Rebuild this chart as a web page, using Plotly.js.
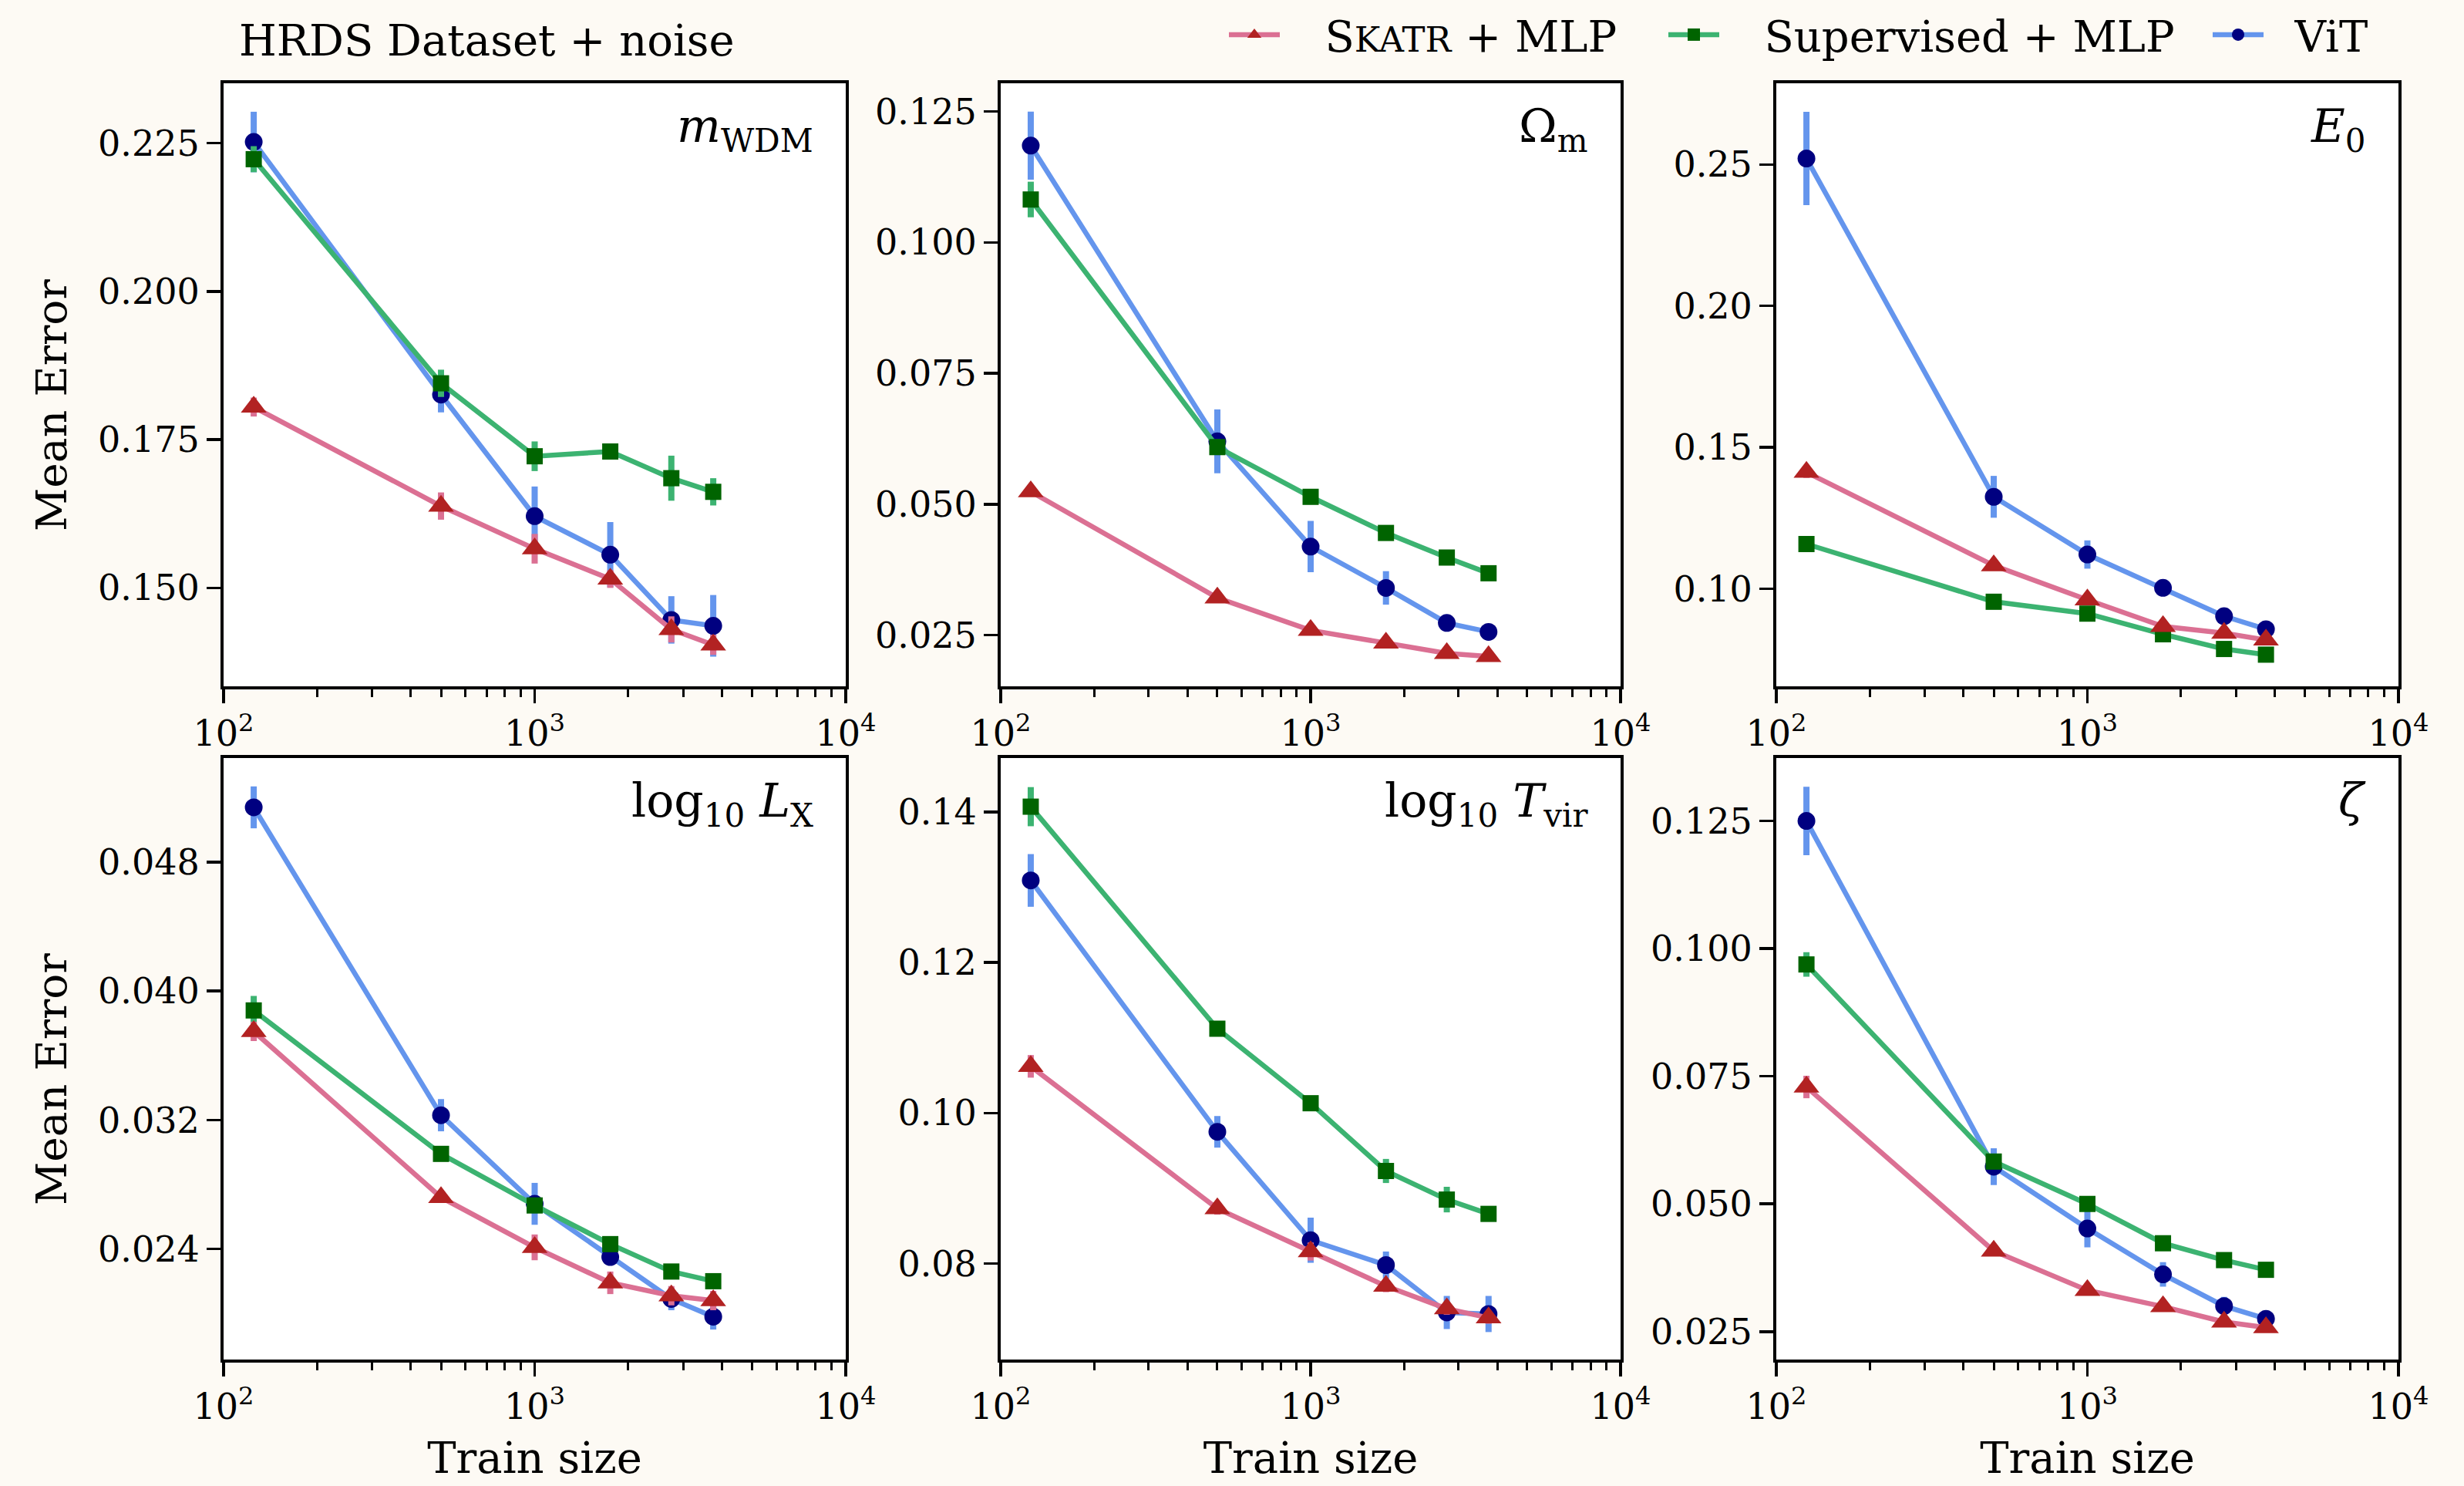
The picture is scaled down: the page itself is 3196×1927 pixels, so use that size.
<!DOCTYPE html>
<html>
<head>
<meta charset="utf-8">
<script src="https://cdn.plot.ly/plotly-3.0.1.min.js"></script>
<style>html,body{margin:0;padding:0;background:#FDFAF4;}</style>
</head>
<body>
<div id="chart" style="width:3196px;height:1927px;"></div>
<script>
// ---------------- DATA ----------------
const trainSize = [125, 500, 1000, 1750, 2750, 3750];
const seriesNames = ['S<span style="font-size:45px">KATR</span> + MLP', 'Supervised + MLP', 'ViT'];
const panelLabels = [
  '<i>m</i><sub>WDM</sub>',
  'Ω<sub>m</sub>',
  '<i>E</i><sub>0</sub>',
  'log<sub>10</sub> <i>L</i><sub>X</sub>',
  'log<sub>10</sub> <i>T</i><sub>vir</sub>',
  '<i>ζ</i>'
];
const figTitle = 'HRDS Dataset + noise';
const yTitle = 'Mean Error';
const xTitle = 'Train size';
const xTickVals = [100, 1000, 10000];
const xTickText = ['10<sup>2</sup>', '10<sup>3</sup>', '10<sup>4</sup>'];
const xMinorVals = [200, 300, 400, 500, 600, 700, 800, 900, 2000, 3000, 4000, 5000, 6000, 7000, 8000, 9000];

// m_WDM
const skatr_mWDM = [0.1805, 0.1638, 0.1566, 0.1515, 0.1430, 0.1404];
const skatr_mWDM_err = [0.0016, 0.0023, 0.0025, 0.0015, 0.0022, 0.0017];
const sup_mWDM = [0.2223, 0.1845, 0.1722, 0.1730, 0.1685, 0.1662];
const sup_mWDM_err = [0.0022, 0.0023, 0.0025, 0.0006, 0.0038, 0.0023];
const vit_mWDM = [0.2252, 0.1826, 0.1621, 0.1556, 0.1446, 0.1436];
const vit_mWDM_err = [0.0051, 0.0030, 0.0050, 0.0055, 0.0040, 0.0052];
// Omega_m
const skatr_Om = [0.0524, 0.0321, 0.0259, 0.0235, 0.0215, 0.0209];
const skatr_Om_err = [0.0008, 0.0006, 0.0006, 0.0006, 0.0005, 0.0005];
const sup_Om = [0.1082, 0.0609, 0.0514, 0.0445, 0.0398, 0.0368];
const sup_Om_err = [0.0034, 0.0015, 0.0007, 0.0007, 0.0006, 0.0006];
const vit_Om = [0.1185, 0.0620, 0.0419, 0.0340, 0.0273, 0.0256];
const vit_Om_err = [0.0065, 0.0061, 0.0049, 0.0032, 0.0008, 0.0008];
// E0
const skatr_E0 = [0.1412, 0.1082, 0.0961, 0.0867, 0.0843, 0.0819];
const skatr_E0_err = [0.0020, 0.0012, 0.0012, 0.0012, 0.0010, 0.0010];
const sup_E0 = [0.1158, 0.0954, 0.0912, 0.0839, 0.0787, 0.0767];
const sup_E0_err = [0.0008, 0.0008, 0.0008, 0.0008, 0.0008, 0.0008];
const vit_E0 = [0.2521, 0.1325, 0.1121, 0.1003, 0.0903, 0.0857];
const vit_E0_err = [0.0165, 0.0074, 0.0050, 0.0020, 0.0015, 0.0015];
// log10 L_X
const skatr_LX = [0.0375, 0.0272, 0.0241, 0.0219, 0.0211, 0.0208];
const skatr_LX_err = [0.0006, 0.0003, 0.0008, 0.0007, 0.0006, 0.0006];
const sup_LX = [0.0388, 0.0299, 0.0267, 0.0243, 0.0226, 0.0220];
const sup_LX_err = [0.0009, 0.0003, 0.0003, 0.0003, 0.0003, 0.0003];
const vit_LX = [0.0514, 0.0323, 0.0268, 0.0235, 0.0209, 0.0198];
const vit_LX_err = [0.0013, 0.0010, 0.0013, 0.0005, 0.0007, 0.0008];
// log10 T_vir
const skatr_Tvir = [0.1062, 0.0873, 0.0816, 0.0770, 0.0740, 0.0728];
const skatr_Tvir_err = [0.0015, 0.0008, 0.0012, 0.0008, 0.0008, 0.0008];
const sup_Tvir = [0.1407, 0.1112, 0.1013, 0.0923, 0.0885, 0.0866];
const sup_Tvir_err = [0.0026, 0.0006, 0.0006, 0.0016, 0.0017, 0.0006];
const vit_Tvir = [0.1309, 0.0975, 0.0831, 0.0798, 0.0735, 0.0733];
const vit_Tvir_err = [0.0035, 0.0021, 0.0030, 0.0018, 0.0022, 0.0024];
// zeta
const skatr_zeta = [0.0729, 0.0408, 0.0331, 0.0299, 0.0269, 0.0258];
const skatr_zeta_err = [0.0022, 0.0008, 0.0008, 0.0008, 0.0008, 0.0008];
const sup_zeta = [0.0969, 0.0583, 0.0500, 0.0423, 0.0390, 0.0371];
const sup_zeta_err = [0.0024, 0.0008, 0.0008, 0.0008, 0.0008, 0.0008];
const vit_zeta = [0.1250, 0.0573, 0.0452, 0.0362, 0.0300, 0.0275];
const vit_zeta_err = [0.0067, 0.0036, 0.0037, 0.0024, 0.0018, 0.0010];

// y-axis ticks per panel
const yTicks1 = [0.150, 0.175, 0.200, 0.225];
const yTicks2 = [0.025, 0.050, 0.075, 0.100, 0.125];
const yTicks3 = [0.10, 0.15, 0.20, 0.25];
const yTicks4 = [0.024, 0.032, 0.040, 0.048];
const yTicks5 = [0.08, 0.10, 0.12, 0.14];
const yTicks6 = [0.025, 0.050, 0.075, 0.100, 0.125];

// ---------------- BUILD ----------------
const panels = [
  {s: skatr_mWDM, se: skatr_mWDM_err, g: sup_mWDM, ge: sup_mWDM_err, v: vit_mWDM, ve: vit_mWDM_err, ticks: yTicks1, fmt: '.3f', range: [0.1334, 0.2351]},
  {s: skatr_Om, se: skatr_Om_err, g: sup_Om, ge: sup_Om_err, v: vit_Om, ve: vit_Om_err, ticks: yTicks2, fmt: '.3f', range: [0.0152, 0.1304]},
  {s: skatr_E0, se: skatr_E0_err, g: sup_E0, ge: sup_E0_err, v: vit_E0, ve: vit_E0_err, ticks: yTicks3, fmt: '.2f', range: [0.0655, 0.2787]},
  {s: skatr_LX, se: skatr_LX_err, g: sup_LX, ge: sup_LX_err, v: vit_LX, ve: vit_LX_err, ticks: yTicks4, fmt: '.3f', range: [0.01714, 0.05446]},
  {s: skatr_Tvir, se: skatr_Tvir_err, g: sup_Tvir, ge: sup_Tvir_err, v: vit_Tvir, ve: vit_Tvir_err, ticks: yTicks5, fmt: '.2f', range: [0.06725, 0.14716]},
  {s: skatr_zeta, se: skatr_zeta_err, g: sup_zeta, ge: sup_zeta_err, v: vit_zeta, ve: vit_zeta_err, ticks: yTicks6, fmt: '.3f', range: [0.01953, 0.13732]}
];

const W = 3196, H = 1927;
const colX = [[290, 1097], [1298, 2102], [2304, 3111]];
const rowY = [[108, 890], [983, 1763]];

const FONT = 'DejaVu Serif';
const styles = {
  skatr: {line: '#DB7093', marker: '#B22222', symbol: 'triangle-up', size: 29, legend: 'legend', lx: 1589, pad: '\u00A0\u00A0\u00A0'},
  sup:   {line: '#3CB371', marker: '#006400', symbol: 'square', size: 21, legend: 'legend2', lx: 2159, pad: '\u00A0\u00A0\u00A0'},
  vit:   {line: '#6495ED', marker: '#000080', symbol: 'circle', size: 23, legend: 'legend3', lx: 2865, pad: '\u00A0\u00A0'}
};

const traces = [];
const layout = {
  width: W, height: H,
  margin: {l: 0, r: 0, t: 0, b: 0},
  paper_bgcolor: '#FDFAF4',
  plot_bgcolor: '#FFFFFF',
  font: {family: FONT, size: 46, color: '#000'},
  showlegend: true,
  annotations: [
    {text: figTitle, xref: 'paper', yref: 'paper', x: 308 / W, y: 1 - 18 / H,
     xanchor: 'left', yanchor: 'top', showarrow: false, font: {family: FONT, size: 56, color: '#000'}}
  ]
};
Object.values(styles).forEach(st => {
  layout[st.legend] = {
    orientation: 'h', x: st.lx / W, xanchor: 'left', y: 1 - 45 / H, yanchor: 'middle',
    font: {family: FONT, size: 56, color: '#000'}, bgcolor: 'rgba(0,0,0,0)',
    itemwidth: 66, borderwidth: 0
  };
});

panels.forEach((p, i) => {
  const r = Math.floor(i / 3), c = i % 3;
  const ax = i === 0 ? '' : String(i + 1);
  const xa = 'x' + ax, ya = 'y' + ax;
  const order = [
    ['vit', p.v, p.ve, seriesNames[2]],
    ['sup', p.g, p.ge, seriesNames[1]],
    ['skatr', p.s, p.se, seriesNames[0]]
  ];
  order.forEach(([k, vals, errs, name]) => {
    const st = styles[k];
    traces.push({
      type: 'scatter', mode: 'lines+markers', x: trainSize, y: vals,
      xaxis: xa, yaxis: ya, name: st.pad + name, legend: st.legend,
      showlegend: i === 0, cliponaxis: false,
      line: {color: st.line, width: 6.5},
      marker: {color: st.marker, symbol: st.symbol, size: st.size, line: {width: 0}},
      error_y: {type: 'data', array: errs, visible: true, color: st.line, thickness: 8, width: 0}
    });
  });
  const xd = colX[c], yd = rowY[r];
  layout['xaxis' + ax] = {
    domain: [xd[0] / W, xd[1] / W], anchor: ya, type: 'log', range: [2, 4],
    tickmode: 'array', tickvals: xTickVals, ticktext: xTickText,
    ticks: 'outside', ticklen: 18, tickwidth: 3.5, tickcolor: '#000',
    minor: {tickmode: 'array', tickvals: xMinorVals, ticks: 'outside', ticklen: 10, tickwidth: 3, tickcolor: '#000'},
    showline: true, linewidth: 4, linecolor: '#000', mirror: true,
    showgrid: false, zeroline: false,
    tickfont: {family: FONT, size: 46, color: '#000'},
    title: r === 1 ? {text: xTitle, font: {family: FONT, size: 56, color: '#000'}, standoff: 22} : {text: ''}
  };
  layout['yaxis' + ax] = {
    domain: [1 - yd[1] / H, 1 - yd[0] / H], anchor: xa, range: p.range,
    tickmode: 'array', tickvals: p.ticks, tickformat: p.fmt,
    ticks: 'outside', ticklen: 18, tickwidth: 3.5, tickcolor: '#000',
    showline: true, linewidth: 4, linecolor: '#000', mirror: true,
    showgrid: false, zeroline: false,
    tickfont: {family: FONT, size: 46, color: '#000'},
    title: {text: ''}
  };
  if (c === 0) {
    layout.annotations.push({
      text: yTitle, xref: 'paper', yref: 'paper', x: 67 / W, y: 1 - (r === 0 ? 526 : 1400) / H,
      xanchor: 'center', yanchor: 'middle', textangle: -90, showarrow: false,
      font: {family: FONT, size: 55, color: '#000'}
    });
  }
  layout.annotations.push({
    text: panelLabels[i], xref: xa + ' domain', yref: ya + ' domain', x: 1, y: 1,
    xanchor: 'right', yanchor: 'top', xshift: -40, yshift: -18, showarrow: false,
    font: {family: FONT, size: 60, color: '#000'}
  });
});

Plotly.newPlot('chart', traces, layout, {displayModeBar: false, staticPlot: true});
</script>
</body>
</html>
